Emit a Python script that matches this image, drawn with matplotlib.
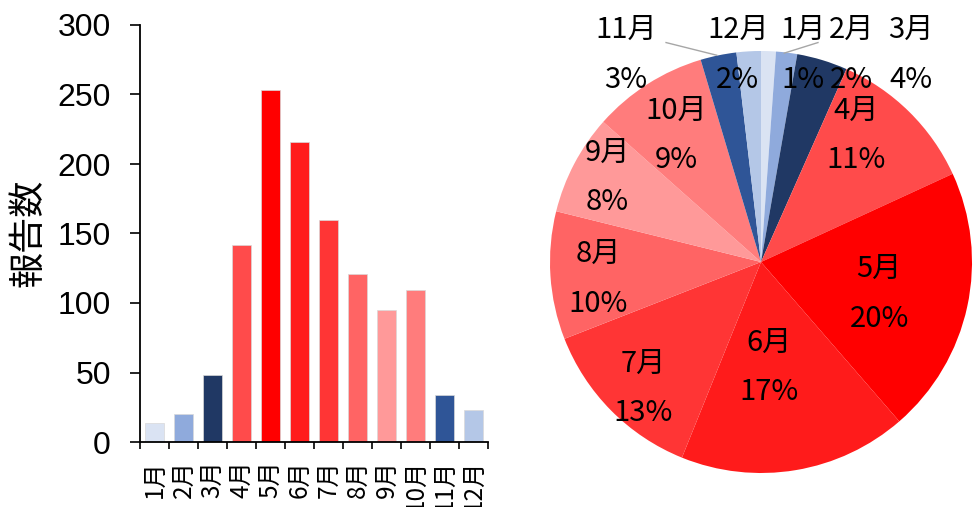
import matplotlib
matplotlib.use("Agg")
import matplotlib.pyplot as plt
import numpy as np

months = ["1月", "2月", "3月", "4月", "5月", "6月", "7月", "8月", "9月", "10月", "11月", "12月"]
reports = [14, 20, 48, 142, 253, 216, 160, 121, 95, 109, 34, 23]
colors = ["#dae3f3", "#8faadc", "#203864", "#ff4b4b", "#ff0000", "#ff1b1b",
          "#ff3535", "#ff6464", "#ff9999", "#ff7c7c", "#2f5597", "#b4c7e7"]
yticks = [0, 50, 100, 150, 200, 250, 300]

# pie label placement (pie radius units)
label_pos = [(0.20, 0.98), (0.43, 0.98), (0.71, 0.98), (0.45, 0.60), (0.56, -0.15),
             (0.04, -0.50), (-0.56, -0.60), (-0.77, -0.08), (-0.73, 0.40),
             (-0.40, 0.60), (-0.64, 0.98), (-0.11, 0.98)]
leader_lines = {0: [(0.11, 0.99), (0.27, 1.04)], 10: [(-0.21, 0.98), (-0.45, 1.04)]}

CJK = ["Noto Sans CJK JP", "DejaVu Sans"]
NUM = ["Liberation Sans", "DejaVu Sans"]

W, H = 974, 507
fig = plt.figure(figsize=(W / 100, H / 100), dpi=100)

# ---- bar chart ----
ax = fig.add_axes([140 / W, (H - 442) / H, 348 / W, 417 / H])
x = np.arange(len(months))
ax.bar(x, reports, width=0.68, color=colors, edgecolor="#d9d9d9", linewidth=0.5)
ax.set_xlim(-0.5, len(months) - 0.5)
ax.set_ylim(0, 300)
ax.set_yticks(yticks)
ax.set_yticklabels([str(v) for v in yticks], fontsize=23, family=NUM)
ax.set_xticks(x)
ax.set_xticklabels(months, rotation=90, fontsize=17.5, family=CJK)
ax.set_xticks(np.arange(-0.5, len(months)), minor=True)
ax.tick_params(axis="x", which="major", length=0, pad=13)
ax.tick_params(axis="x", which="minor", length=5, width=1.2, direction="out")
ax.tick_params(axis="y", length=7, width=1.2, direction="out", pad=14)
for s in ["top", "right"]:
    ax.spines[s].set_visible(False)
for s in ["left", "bottom"]:
    ax.spines[s].set_linewidth(1.3)
fig.text(28 / W, 1 - 233 / H, "報告数", rotation=90, ha="center", va="center",
         fontsize=26, family=CJK)

# ---- pie chart ----
pax = fig.add_axes([550 / W, (H - 262 - 211) / H, 422 / W, 422 / H])
wedges, _ = pax.pie(reports, colors=colors, startangle=90, counterclock=False,
                    wedgeprops=dict(edgecolor="none"))
pax.set_xlim(-1, 1)
pax.set_ylim(-1, 1)
pax.set_aspect("equal")
pax.axis("off")
total = sum(reports)
for i, (m, v) in enumerate(zip(months, reports)):
    px, py = label_pos[i]
    pct = 100.0 * v / total
    pax.text(px, py + 0.118, m, ha="center", va="center", fontsize=21, family=CJK, clip_on=False)
    pax.text(px, py - 0.118, "%.0f%%" % pct, ha="center", va="center", fontsize=21,
             family=CJK, clip_on=False)
for i, pts in leader_lines.items():
    xs, ys = zip(*pts)
    pax.plot(xs, ys, color="#a6a6a6", lw=1.0, clip_on=False)

fig.savefig("out.png", dpi=100)
